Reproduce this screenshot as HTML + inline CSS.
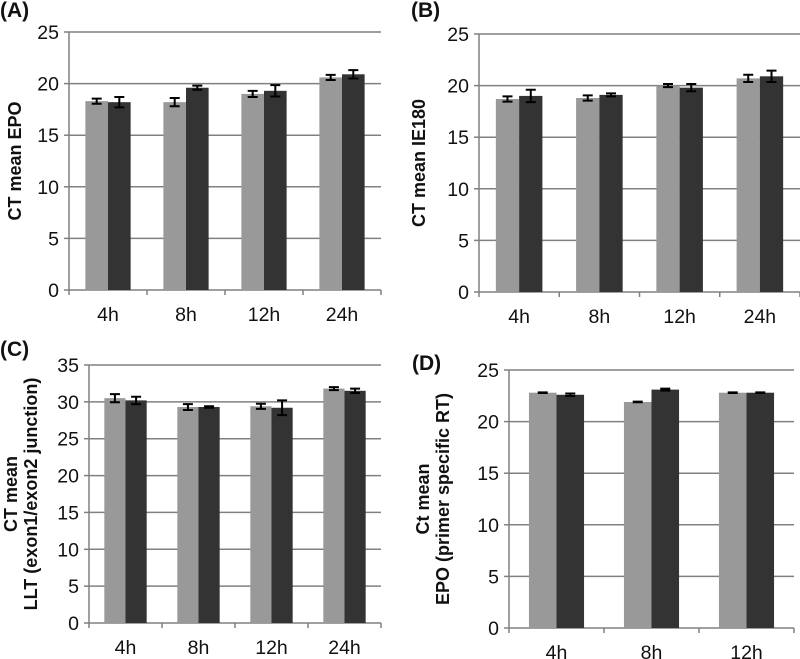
<!DOCTYPE html>
<html><head><meta charset="utf-8"><style>
html,body{margin:0;padding:0;background:#fff}
svg{display:block;font-family:"Liberation Sans",Arial,sans-serif}
</style></head><body>
<svg id="c" width="800" height="659"></svg>
<script>
const catsA=["4h","8h","12h","24h"];
const lightA=[18.3,18.2,19.0,20.6], lightErrA=[0.25,0.4,0.3,0.25];
const darkA=[18.2,19.6,19.3,20.9], darkErrA=[0.5,0.2,0.55,0.4];
const catsB=["4h","8h","12h","24h"];
const lightB=[18.7,18.8,20.0,20.7], lightErrB=[0.25,0.25,0.15,0.35];
const darkB=[19.0,19.1,19.8,20.9], darkErrB=[0.6,0.15,0.35,0.55];
const catsC=["4h","8h","12h","24h"];
const lightC=[30.5,29.3,29.4,31.8], lightErrC=[0.55,0.4,0.35,0.2];
const darkC=[30.2,29.3,29.2,31.5], darkErrC=[0.5,0.1,1.0,0.3];
const catsD=["4h","8h","12h"];
const lightD=[22.8,21.9,22.8], lightErrD=[0.03,0.03,0.03];
const darkD=[22.6,23.1,22.8], darkErrD=[0.12,0.1,0.03];
const ticksAB=[0,5,10,15,20,25], ticksC=[0,5,10,15,20,25,30,35], ticksD=[0,5,10,15,20,25];

const svg=document.getElementById('c');
const NS='http://www.w3.org/2000/svg';
function mk(tag,attrs,parent){const e=document.createElementNS(NS,tag);for(const k in attrs)e.setAttribute(k,attrs[k]);(parent||svg).appendChild(e);return e;}

function panel(p){
  const g=mk('g',{});
  
  
  const max=p.ticks[p.ticks.length-1];
  const y=v=>p.yb-(v/max)*(p.yb-p.yt);
  const cw=(p.x1-p.x0)/p.cats.length;
  const xc=i=>p.x0+cw*(i+0.5);
  p.ticks.forEach(t=>{
    const gl=mk('line',{x1:p.x0,x2:p.x1,y1:y(t),y2:y(t),stroke:'#808080','stroke-width':1.5},g);
    
    
    const tl=mk('line',{x1:p.x0-5,x2:p.x0,y1:y(t),y2:y(t),stroke:'#808080','stroke-width':1.5},g);
    
    
    const tx=mk('text',{x:p.x0-10,y:y(t)+7,'text-anchor':'end','font-size':19.5,fill:'#111'},g);
    tx.textContent=t;
    
    
  });
  const ax=mk('line',{x1:p.x0,x2:p.x0,y1:p.yt,y2:p.yb,stroke:'#808080','stroke-width':1.5},g);
  
  
  for(let i=0;i<=p.cats.length;i++){
    const t=mk('line',{x1:p.x0+cw*i,x2:p.x0+cw*i,y1:p.yb,y2:p.yb+5,stroke:'#808080','stroke-width':1.5},g);
    
    
  }
  const bw=cw*0.29;
  p.cats.forEach((c,i)=>{
    [[p.light,p.lightErr,'#999999',-bw],[p.dark,p.darkErr,'#333333',0]].forEach((s,k)=>{
      const v=s[0][i],e=s[1][i];
      const bx=xc(i)+s[3];
      const r=mk('rect',{x:bx,y:y(v),width:bw,height:p.yb-y(v),fill:s[2]},g);
      
      
      const mx=bx+bw/2;
      const eb=mk('path',{d:`M${mx},${y(v+e)}V${y(v-e)}M${mx-5},${y(v+e)}h10M${mx-5},${y(v-e)}h10`,stroke:'#000','stroke-width':2,fill:'none'},g);
      
      
    });
    const lt=mk('text',{x:xc(i),y:p.yb+31,'text-anchor':'middle','font-size':19.5,fill:'#111'},g);
    lt.textContent=c;
    
    
  });
  p.title.forEach((line,j)=>{
    const tx=p.tx[j];
    const t=mk('text',{x:tx,y:(p.yt+p.yb)/2,'text-anchor':'middle','font-size':18,'font-weight':'bold',fill:'#111',transform:`rotate(-90 ${tx} ${(p.yt+p.yb)/2})`},g);
    t.textContent=line;
    
    
  });
  const pl=mk('text',{x:p.lx,y:p.ly,'font-size':21,'font-weight':'bold',fill:'#111'},g);
  pl.textContent=p.label;
  
  
}
panel({id:'a',label:'(A)',lx:0,ly:17,x0:69,x1:381,yt:32,yb:290,cats:catsA,light:lightA,lightErr:lightErrA,dark:darkA,darkErr:darkErrA,ticks:ticksAB,title:['CT mean EPO'],tx:[21]});
panel({id:'b',label:'(B)',lx:411,ly:17,x0:479,x1:800,yt:34,yb:292,cats:catsB,light:lightB,lightErr:lightErrB,dark:darkB,darkErr:darkErrB,ticks:ticksAB,title:['CT mean IE180'],tx:[425]});
panel({id:'c',label:'(C)',lx:0,ly:356,x0:89,x1:381,yt:365,yb:623,cats:catsC,light:lightC,lightErr:lightErrC,dark:darkC,darkErr:darkErrC,ticks:ticksC,title:['CT mean','LLT (exon1/exon2 junction)'],tx:[17,37]});
panel({id:'d',label:'(D)',lx:412,ly:370,x0:509,x1:794,yt:370,yb:628,cats:catsD,light:lightD,lightErr:lightErrD,dark:darkD,darkErr:darkErrD,ticks:ticksD,title:['Ct mean','EPO (primer specific RT)'],tx:[429,449]});
</script>
</body></html>
